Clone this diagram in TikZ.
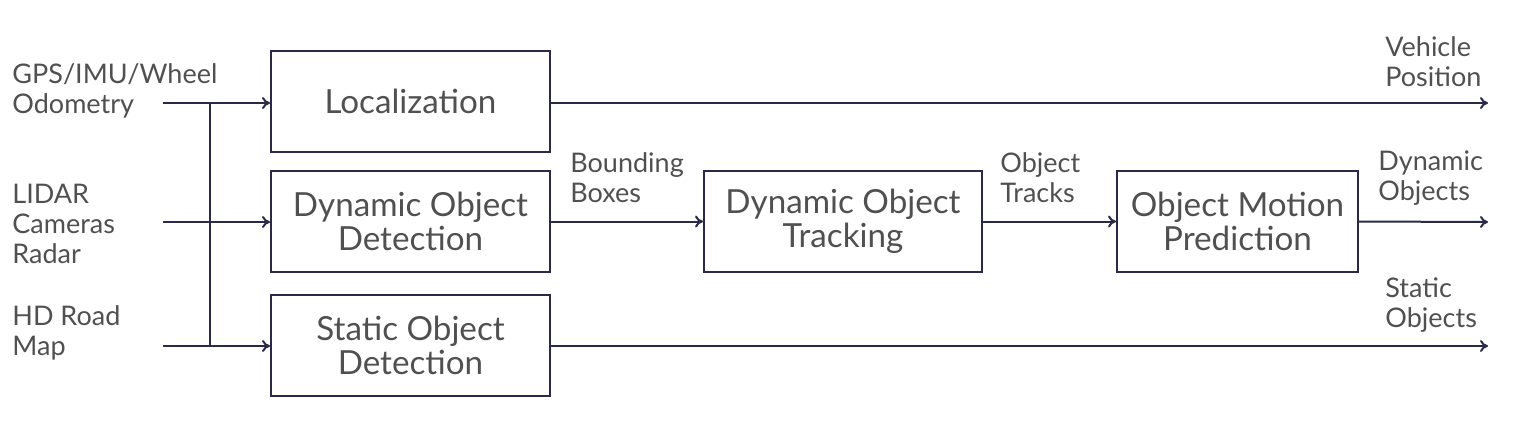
\documentclass[tikz,border=0pt]{standalone}
\usepackage{fontspec}
\setmainfont{Lato}
\usetikzlibrary{arrows.meta}

\definecolor{linecol}{HTML}{2A2A48}
\definecolor{textcol}{HTML}{505050}

\tikzset{
  block/.style={draw=linecol, line width=1pt, rectangle, align=center, inner sep=0pt,
    minimum height=50.5pt, text=textcol, font=\fontsize{16.6}{17}\selectfont},
  lbl/.style={anchor=west, align=left, inner sep=0pt, text=textcol,
    font=\fontsize{13.5}{15}\selectfont},
  wire/.style={draw=linecol, line width=1pt},
  flow/.style={wire, -{To[length=4pt,width=6pt]}}
}

\begin{document}
\begin{tikzpicture}[x=0.5pt, y=-0.5pt]
			\useasboundingbox (0,0) rectangle (1522,441);
			
			% Blocks
			\node[block, minimum width=139.5pt] (loc) at (410.5,101.5) {Localization};
			\node[block, minimum width=139.5pt] (dod) at (410.5,221.5) {Dynamic Object\\Detection};
			\node[block, minimum width=139.5pt] (sod) at (410.5,345.5) {Static Object\\Detection};
			\node[block, minimum width=139pt] (dot) at (843,221.5) {Dynamic Object\\Tracking};
			\node[block, minimum width=120.5pt] (omp) at (1237.5,221.5) {Object Motion\\Prediction};
			
			% Inputs
			\node[lbl] (gps) at (12,91) {GPS/IMU/Wheel\\Odometry};
			\node[lbl] (lidar) at (12,224) {LIDAR\\Cameras\\Radar};
			\node[lbl] (hd) at (12,333) {HD Road\\Map};
			
			\coordinate (gpsend) at (163,103);
			\coordinate (lidarend) at (163,222);
			\coordinate (hdend) at (163,346);
			\coordinate (bustop) at (210,103);
			\coordinate (busbot) at (210,346);
			
			\draw[flow] (gpsend) -- (loc.west |- gpsend);
			\draw[flow] (lidarend) -- (dod.west |- lidarend);
			\draw[flow] (hdend) -- (sod.west |- hdend);
			\draw[wire] (bustop) -- (busbot);
			
			% Middle chain
			\draw[flow] (dod.east) -- (dot.west);
			\draw[flow] (dot.east) -- (omp.west);
			\node[lbl] (bbox) at (570,178) {Bounding\\Boxes};
			\node[lbl] (tracks) at (1000,178) {Object\\Tracks};
			
			% Outputs
			\coordinate (vposend) at (1488,103);
			\coordinate (dynend) at (1488,222);
			\coordinate (statend) at (1488,346);
			
			\draw[flow] (loc.east |- vposend) -- (vposend);
			\draw[flow] (omp.east) -- (dynend);
			\draw[flow] (sod.east |- statend) -- (statend);
			
			\node[lbl] (vpos) at (1385,62) {Vehicle\\Position};
			\node[lbl] (dyn) at (1378,178) {Dynamic\\Objects};
			\node[lbl] (stat) at (1385,305) {Static\\Objects};
		\end{tikzpicture}
\end{document}
